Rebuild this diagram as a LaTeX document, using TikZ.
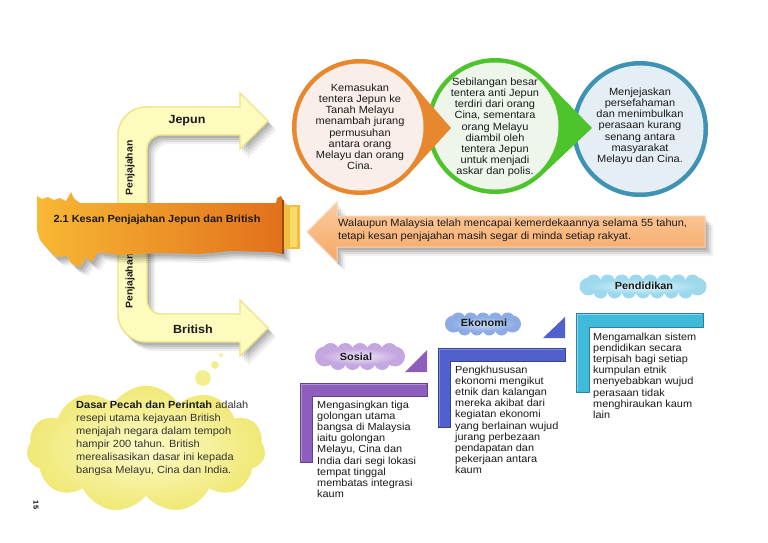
\documentclass[tikz,border=0pt]{standalone}
\usepackage{fontspec}
\setmainfont{Liberation Sans}[FakeStretch=1.06]
\usetikzlibrary{shapes.symbols,shadows,calc}
\definecolor{txt}{HTML}{1A1A1A}
\definecolor{grtxt}{HTML}{333333}
\definecolor{orring}{HTML}{E8882E}
\definecolor{orin}{HTML}{F9EEEA}
\definecolor{grring}{HTML}{4EC42C}
\definecolor{grin}{HTML}{EEF6EC}
\definecolor{blring}{HTML}{3E92B4}
\definecolor{blin}{HTML}{E5EEF4}
\definecolor{yelfill}{HTML}{FDFBBE}
\definecolor{yeledge}{HTML}{ECE388}
\definecolor{peachlt}{HTML}{FCCB9E}
\definecolor{peachdk}{HTML}{F5A765}
\definecolor{peachedge}{HTML}{F8D4B0}
\definecolor{banl}{HTML}{F8B834}
\definecolor{banr}{HTML}{E2701C}
\definecolor{capa}{HTML}{F2BE3C}
\definecolor{capb}{HTML}{F8DB6A}
\definecolor{capline}{HTML}{9A4A10}
\definecolor{cloudin}{HTML}{FCFAC8}
\definecolor{cloudout}{HTML}{F0E874}
\definecolor{bubble}{HTML}{F3EE90}
\definecolor{purp}{HTML}{8D5EBE}
\definecolor{purplt}{HTML}{B592DA}
\definecolor{royal}{HTML}{5060CC}
\definecolor{royallt}{HTML}{7F8BE0}
\definecolor{cyanb}{HTML}{40BADB}
\definecolor{cyanlt}{HTML}{86D8EE}
\definecolor{sosin}{HTML}{EFE6F7}
\definecolor{sosout}{HTML}{C4A6E0}
\definecolor{ekoin}{HTML}{CDDDF7}
\definecolor{ekoout}{HTML}{8CACE3}
\definecolor{penin}{HTML}{E2F5FB}
\definecolor{penout}{HTML}{9DD8ED}
\tikzset{
  bodytext/.style={font=\fontsize{10.3}{11.2}\selectfont, text=txt, inner sep=0pt, align=left, anchor=north west},
  circtext/.style={font=\fontsize{10.4}{11.2}\selectfont, text=txt, inner sep=0pt, align=center, anchor=north},
  armlabel/.style={font=\bfseries\fontsize{11.8}{13}\selectfont, text=txt, inner sep=0pt},
  vlabel/.style={font=\bfseries\fontsize{9.8}{11}\selectfont, text=txt, inner sep=0pt, rotate=90},
  cloudlabel/.style={font=\bfseries\fontsize{10.3}{12}\selectfont, text=txt, inner sep=0pt},
  puff/.style={cloud, cloud puffs=#1, cloud puff arc=115, draw=white, line width=1.2pt, inner sep=0pt},
  softshadow/.style={
    drop shadow={shadow xshift=2pt, shadow yshift=-3pt, opacity=.10, fill=black},
    drop shadow={shadow xshift=4pt, shadow yshift=-5pt, opacity=.10, fill=black},
    drop shadow={shadow xshift=6pt, shadow yshift=-7pt, opacity=.08, fill=black},
    drop shadow={shadow xshift=8pt, shadow yshift=-9pt, opacity=.06, fill=black}},
  Lshape/.style={fill=#1, draw=#1!70!black, line width=.6pt},
}
% cx, cy, width, height, top puffs, base colour, light colour
\newcommand\puffcloud[7]{%
 \begin{scope}[shift={(#1,#2)}]
  \pgfmathsetmacro\hw{#3/2}\pgfmathsetmacro\hh{#4/2}
  \pgfmathsetmacro\re{0.37*#4}\pgfmathsetmacro\rt{0.31*#4}\pgfmathsetmacro\rb{0.29*#4}
  \pgfmathsetmacro\xe{\hw-\re}
  \pgfmathsetmacro\yt{-\hh+\rt}\pgfmathsetmacro\yb{\hh-\rb}
  \pgfmathsetmacro\xs{\hw-0.58*#4}
  \pgfmathtruncatemacro\nm{#5-1}\pgfmathtruncatemacro\nb{#5-2}
  \pgfmathsetmacro\sp{2*\xs/\nm}
  \foreach \extra/\col in {1.3/white,0/#6}{
    \fill[\col] (-\xe,0) circle ({\re+\extra}) (\xe,0) circle ({\re+\extra});
    \foreach \k in {0,...,\nm}{
      \fill[\col] ({-\xs+\k*\sp}, \yt) circle ({\rt+\extra});
    }
    \foreach \k in {0,...,\nb}{
      \fill[\col] ({-\xs+(\k+0.5)*\sp}, \yb) circle ({\rb+\extra});
    }
    \fill[\col] (0,0) ellipse ({\xe} and {\hh*0.6+\extra});
  }
  \shade[inner color=#7, outer color=#6] (0,0) ellipse ({\xe+0.4*\re} and {\hh*0.62});
 \end{scope}}
\begin{document}
\begin{tikzpicture}[x=1pt,y=-1pt]
\useasboundingbox (0,0) rectangle (768,543);
\fill[white] (0,0) rectangle (768,543);

% ---------- yellow C arrow ----------
\path[fill=yelfill, draw=yeledge, line width=1.4pt, softshadow]
  (240,107) -- (240,93) -- (268,121) -- (240,149) -- (240,135)
  -- (161,135) arc[start angle=270, end angle=180, radius=14]
  -- (147,300) arc[start angle=180, end angle=90, radius=14]
  -- (240,314) -- (240,300) -- (268,328) -- (240,356) -- (240,342)
  -- (146,342) arc[start angle=90, end angle=180, radius=28]
  -- (118,135) arc[start angle=180, end angle=270, radius=28]
  -- cycle;
\node[armlabel] (jepun) at (187,121) {Jepun};
\node[armlabel] (british) at (193,329.5) {British};
\node[vlabel] (penj1) at (130,168) {Penjajahan};
\node[vlabel] (penj2) at (130,281) {Penjajahan};

% ---------- orange banner ----------
\path[left color=banl, right color=banr, softshadow]
  (37,196) -- (42,199) -- (48,197) -- (54,200) -- (60,198) -- (66,201)
  -- (71,192) -- (74,199) -- (80,203) -- (276,203) -- (277,198) -- (281,196)
  -- (283,200) -- (283,254) -- (270,252) -- (230,251) -- (200,254) -- (160,253)
  -- (120,255) -- (98,252) -- (92,262) -- (86,258) -- (80,267) -- (72,264)
  -- (67,256) -- (56,257) -- (47,248) -- (40,240) -- (37,230) -- cycle;
\fill[capa] (283,205) rectangle (300,249);
\fill[capb] (290,207) rectangle (297,247);
\draw[capline, line width=1.2pt] (283,200) -- (283,254);
\node[font=\bfseries\fontsize{10.3}{12}\selectfont, text=txt, inner sep=0pt] (title) at (157,220) {2.1 Kesan Penjajahan Jepun dan British};

% ---------- circles ----------
\fill[blring] (640,129) circle (68);
\fill[blin] (640,129) circle (63.5);
\node[circtext] (c3) at (640,87.5) {Menjejaskan\\persefahaman\\dan menimbulkan\\perasaan kurang\\senang antara\\masyarakat\\Melayu dan Cina.};
\fill[grring] (592,128) -- ($(495,126)+(-45.5:68)$) arc[start angle=-45.5, end angle=-314.5, radius=68] -- cycle;
\fill[grin] (495,126) circle (63.5);
\node[circtext] (c2) at (495,77.5) {Sebilangan besar\\tentera anti Jepun\\terdiri dari orang\\Cina, sementara\\orang Melayu\\diambil oleh\\tentera Jepun\\untuk menjadi\\askar dan polis.};
\fill[orring] (451,128) -- ($(360,127)+(-41.5:68)$) arc[start angle=-41.5, end angle=-318.5, radius=68] -- cycle;
\fill[orin] (360,127) circle (63.5);
\node[circtext] (c1) at (360,83.5) {Kemasukan\\tentera Jepun ke\\Tanah Melayu\\menambah jurang\\permusuhan\\antara orang\\Melayu dan orang\\Cina.};

% ---------- peach arrow ----------
\path[top color=peachlt, bottom color=peachdk, draw=peachedge, line width=1pt, softshadow]
  (307,232) -- (337,202) -- (337,216) -- (705,216) -- (705,247) -- (337,247) -- (337,262) -- cycle;
\node[bodytext, font=\fontsize{10.4}{13}\selectfont] (walau) at (338,219) {Walaupun Malaysia telah mencapai kemerdekaannya selama 55 tahun,\\tetapi kesan penjajahan masih segar di minda setiap rakyat.};

% ---------- thought cloud ----------
\node[puff=11, aspect=1.95, minimum width=240pt, minimum height=128pt, inner color=cloudin, outer color=cloudout] (bigcloud) at (146,449) {};
\fill[bubble, draw=white, line width=1pt] (203,378) circle (8.5);
\fill[bubble, draw=white, line width=.8pt] (215,365) circle (4.5);
\fill[bubble, draw=white, line width=.6pt] (221,355) circle (2.3);
\node[bodytext, font=\fontsize{10.4}{13}\selectfont, text=grtxt] (dasar) at (76,401) {\textbf{\color{txt}Dasar Pecah dan Perintah} adalah\\resepi utama kejayaan British\\menjajah negara dalam tempoh\\hampir 200 tahun. British\\merealisasikan dasar ini kepada\\bangsa Melayu, Cina dan India.};
\node[font=\bfseries\fontsize{7}{8}\selectfont, rotate=-90, inner sep=0pt] (pg) at (36,505) {15};

% ---------- steps ----------
% Sosial
\puffcloud{360}{356.5}{90}{27}{5}{sosout}{sosin}
\node[cloudlabel] (sosial) at (356,357) {Sosial};
\fill[purp] (405,372) -- (427,350) -- (427,372) -- cycle;
\path[Lshape=purp] (300,383) -- (427,383) -- (427,396) -- (312,396) -- (312,462) -- (300,462) -- cycle;
\draw[purplt, line width=1pt] (301,461) -- (301,384) -- (426,384);
\node[bodytext] (sosialtxt) at (317,400.5) {Mengasingkan tiga\\golongan utama\\bangsa di Malaysia\\iaitu golongan\\Melayu, Cina dan\\India dari segi lokasi\\tempat tinggal\\membatas integrasi\\kaum};

% Ekonomi
\puffcloud{483}{324}{76}{23}{5}{ekoout}{ekoin}
\node[cloudlabel] (ekonomi) at (484,323) {Ekonomi};
\fill[royal] (543,338) -- (565,317) -- (565,338) -- cycle;
\path[Lshape=royal] (438,348) -- (565,348) -- (565,361) -- (450,361) -- (450,427) -- (438,427) -- cycle;
\draw[royallt, line width=1pt] (439,426) -- (439,349) -- (564,349);
\node[bodytext] (ekonomitxt) at (455,365.5) {Pengkhususan\\ekonomi mengikut\\etnik dan kalangan\\mereka akibat dari\\kegiatan ekonomi\\yang berlainan wujud\\jurang perbezaan\\pendapatan dan\\pekerjaan antara\\kaum};

% Pendidikan
\puffcloud{643}{286.5}{127}{24}{8}{penout}{penin}
\node[cloudlabel] (pend) at (644,285.5) {Pendidikan};
\path[Lshape=cyanb] (576,313) -- (703,313) -- (703,327) -- (589,327) -- (589,392) -- (576,392) -- cycle;
\draw[cyanlt, line width=1pt] (577,391) -- (577,314) -- (702,314);
\node[bodytext] (pendtxt) at (593,332.5) {Mengamalkan sistem\\pendidikan secara\\terpisah bagi setiap\\kumpulan etnik\\menyebabkan wujud\\perasaan tidak\\menghiraukan kaum\\lain};
\end{tikzpicture}
\end{document}
